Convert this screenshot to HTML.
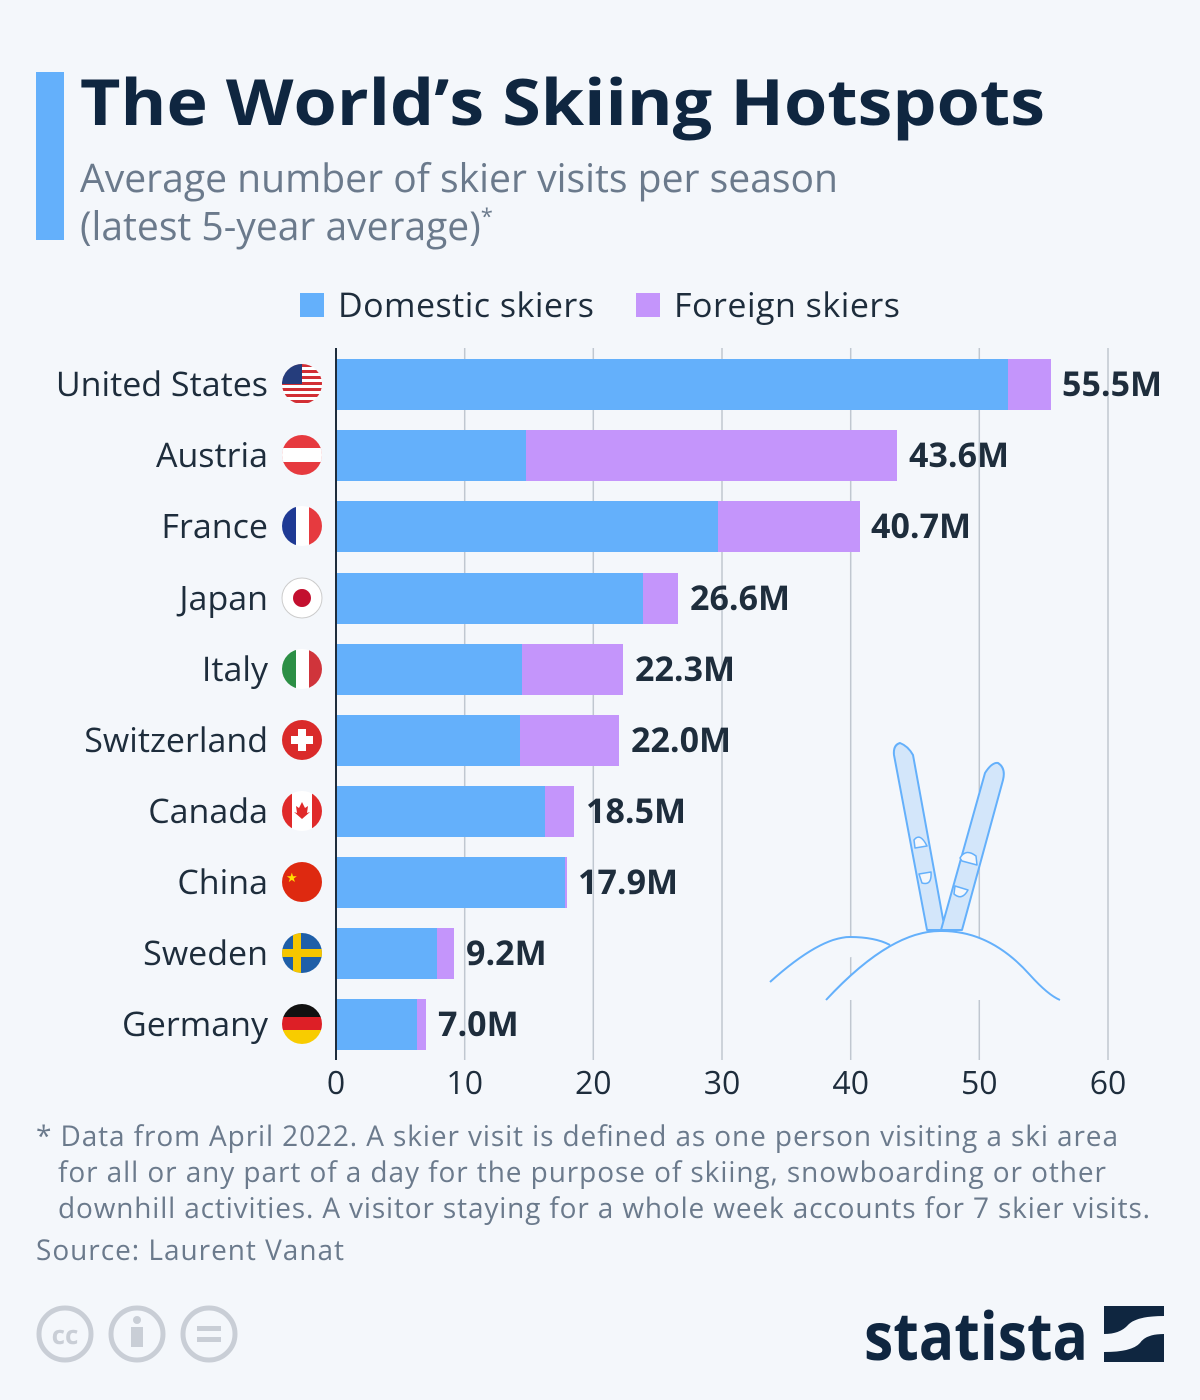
<!DOCTYPE html>
<html><head><meta charset="utf-8"><style>
html,body{margin:0;padding:0;background:#f4f7fb;}
svg{display:block;font-family:"Open Sans","Liberation Sans","DejaVu Sans",sans-serif;}
</style></head><body>
<svg width="1200" height="1400" viewBox="0 0 1200 1400" xmlns="http://www.w3.org/2000/svg">
<rect width="1200" height="1400" fill="#f4f7fb"/>
<rect x="36" y="72" width="28" height="168" fill="#64b0fb"/>
<text x="80" y="125" font-size="64" font-weight="bold" fill="#0f2640" textLength="965" lengthAdjust="spacingAndGlyphs">The World’s Skiing Hotspots</text>
<text x="80" y="192" font-size="39" fill="#6b7a8c" textLength="758" lengthAdjust="spacingAndGlyphs">Average number of skier visits per season</text>
<text x="80" y="240" font-size="39" fill="#6b7a8c">(latest 5-year average)<tspan font-size="22" dy="-16">*</tspan></text>
<rect x="300" y="293" width="24" height="24" fill="#64b0fb"/>
<text x="338" y="317" font-size="34" fill="#1e2d3c" textLength="256">Domestic skiers</text>
<rect x="636" y="293" width="24" height="24" fill="#c495fb"/>
<text x="674" y="317" font-size="34" fill="#1e2d3c" textLength="226">Foreign skiers</text>
<g stroke="#c0c7d0" stroke-width="1.5">
<line x1="464.7" y1="348" x2="464.7" y2="1060"/><line x1="593.3" y1="348" x2="593.3" y2="1060"/>
<line x1="722" y1="348" x2="722" y2="1060"/><line x1="850.7" y1="348" x2="850.7" y2="1060"/>
<line x1="979.3" y1="348" x2="979.3" y2="1060"/><line x1="1108" y1="348" x2="1108" y2="1060"/>
</g>
<g font-size="34" fill="#1e2d3c" text-anchor="end">
<text x="268" y="396">United States</text><text x="268" y="467">Austria</text><text x="268" y="538">France</text>
<text x="268" y="610">Japan</text><text x="268" y="681">Italy</text><text x="268" y="752">Switzerland</text>
<text x="268" y="823">Canada</text><text x="268" y="894">China</text><text x="268" y="965">Sweden</text>
<text x="268" y="1036">Germany</text>
</g>
<defs>
<clipPath id="c1"><circle cx="302" cy="384" r="20"/></clipPath><clipPath id="c2"><circle cx="302" cy="455" r="20"/></clipPath>
<clipPath id="c3"><circle cx="302" cy="526" r="20"/></clipPath><clipPath id="c5"><circle cx="302" cy="669" r="20"/></clipPath>
<clipPath id="c7"><circle cx="302" cy="811" r="20"/></clipPath><clipPath id="c9"><circle cx="302" cy="953" r="20"/></clipPath>
<clipPath id="c10"><circle cx="302" cy="1024" r="20"/></clipPath>
</defs>
<g clip-path="url(#c1)"><rect x="282" y="364" width="40" height="40" fill="#fff"/>
<g fill="#d22f35"><rect x="282" y="364" width="40" height="3"/><rect x="282" y="370" width="40" height="3"/><rect x="282" y="376" width="40" height="3"/><rect x="282" y="382" width="40" height="3"/><rect x="282" y="388" width="40" height="3"/><rect x="282" y="394" width="40" height="3"/><rect x="282" y="400" width="40" height="3"/></g>
<rect x="282" y="364" width="20" height="20" fill="#253d7c"/></g>
<g clip-path="url(#c2)"><rect x="282" y="435" width="40" height="40" fill="#e63a3f"/><rect x="282" y="448" width="40" height="14" fill="#fff"/></g>
<g clip-path="url(#c3)"><rect x="282" y="506" width="14" height="40" fill="#1f3a94"/><rect x="296" y="506" width="13" height="40" fill="#fff"/><rect x="309" y="506" width="13" height="40" fill="#e63a3f"/></g>
<circle cx="302" cy="598" r="20" fill="#fff" stroke="#ccc"/><circle cx="302" cy="598" r="9" fill="#c3102f"/>
<g clip-path="url(#c5)"><rect x="282" y="649" width="14" height="40" fill="#2c8f45"/><rect x="296" y="649" width="13" height="40" fill="#fff"/><rect x="309" y="649" width="13" height="40" fill="#d0343b"/></g>
<circle cx="302" cy="740" r="20" fill="#da2a2a"/><path d="M298 729h8v7h7v8h-7v7h-8v-7h-7v-8h7z" fill="#fff"/>
<g clip-path="url(#c7)"><rect x="282" y="791" width="40" height="40" fill="#fff"/><rect x="282" y="791" width="10" height="40" fill="#e02a2a"/><rect x="312" y="791" width="10" height="40" fill="#e02a2a"/><path d="M302 802l3 6 3-2-1 7 3-1-8 7-8-7 3 1-1-7 3 2z" fill="#e02a2a"/></g>
<circle cx="302" cy="882" r="20" fill="#de2910"/><text x="286" y="882" font-size="13" fill="#ffde00">★</text>
<g clip-path="url(#c9)"><rect x="282" y="933" width="40" height="40" fill="#1f5fa8"/><rect x="282" y="949" width="40" height="8" fill="#f6c600"/><rect x="293" y="933" width="8" height="40" fill="#f6c600"/></g>
<g clip-path="url(#c10)"><rect x="282" y="1004" width="40" height="14" fill="#111"/><rect x="282" y="1017" width="40" height="14" fill="#dd1f26"/><rect x="282" y="1030" width="40" height="14" fill="#f8cc00"/></g>
<g fill="#64b0fb">
<rect x="336" y="359" width="672" height="51"/><rect x="336" y="430" width="190" height="51"/>
<rect x="336" y="501" width="382" height="51"/><rect x="336" y="573" width="307" height="51"/>
<rect x="336" y="644" width="186" height="51"/><rect x="336" y="715" width="184" height="51"/>
<rect x="336" y="786" width="209" height="51"/><rect x="336" y="857" width="229" height="51"/>
<rect x="336" y="928" width="101" height="51"/><rect x="336" y="999" width="81" height="51"/>
</g>
<g fill="#c495fb">
<rect x="1008" y="359" width="43" height="51"/><rect x="526" y="430" width="371" height="51"/>
<rect x="718" y="501" width="142" height="51"/><rect x="643" y="573" width="35" height="51"/>
<rect x="522" y="644" width="101" height="51"/><rect x="520" y="715" width="99" height="51"/>
<rect x="545" y="786" width="29" height="51"/><rect x="565" y="857" width="2" height="51"/>
<rect x="437" y="928" width="17" height="51"/><rect x="417" y="999" width="9" height="51"/>
</g>
<line x1="336" y1="348" x2="336" y2="1060" stroke="#1e2d3c" stroke-width="2"/>
<g font-size="34" font-weight="bold" fill="#1e2d3c">
<text x="1062" y="396">55.5M</text><text x="909" y="467">43.6M</text><text x="871" y="538">40.7M</text>
<text x="690" y="610">26.6M</text><text x="635" y="681">22.3M</text><text x="631" y="752">22.0M</text>
<text x="586" y="823">18.5M</text><text x="578" y="894">17.9M</text><text x="466" y="965">9.2M</text>
<text x="438" y="1036">7.0M</text>
</g>
<g font-size="32" fill="#1e2d3c" text-anchor="middle">
<text x="336" y="1094">0</text><text x="464.7" y="1094">10</text><text x="593.3" y="1094">20</text>
<text x="722" y="1094">30</text><text x="850.7" y="1094">40</text><text x="979.3" y="1094">50</text><text x="1108" y="1094">60</text>
</g>
<g stroke="#64b0fb" stroke-width="2" stroke-linejoin="round">
<path d="M894 755 Q893 745 900 743 Q908 746 913 755 L945 930 L927 930 Z" fill="#d3e6fa"/>
<path d="M985 773 Q992 762 998 763 Q1006 768 1003 780 L962 930 L941 930 Z" fill="#d3e6fa"/>
<path d="M914 840 Q920 832 927 846 L915 848 Z M919 874 L931 872 Q932 886 922 883 Z M960 858 Q966 848 976 856 L977 865 L962 861 Z M955 886 L968 890 Q962 901 954 894 Z" fill="#f4f7fb" stroke-width="1.5"/>
<path d="M770 982 Q820 937 850 937 Q875 937 890 945" fill="#f4f7fb"/>
<path d="M826 1000 Q890 931 940 931 Q990 930 1030 975 Q1048 995 1060 1000" fill="#f4f7fb"/>
</g>
<g font-size="28" fill="#6b7a8c">
<text x="36" y="1146" textLength="1082">* Data from April 2022. A skier visit is defined as one person visiting a ski area</text>
<text x="58" y="1182" textLength="1048">for all or any part of a day for the purpose of skiing, snowboarding or other</text>
<text x="58" y="1218" textLength="1092">downhill activities. A visitor staying for a whole week accounts for 7 skier visits.</text>
<text x="36" y="1260" textLength="308">Source: Laurent Vanat</text>
</g>
<g stroke="#c9ced6" stroke-width="5" fill="none">
<circle cx="65" cy="1334" r="26"/><circle cx="137" cy="1334" r="26"/><circle cx="209" cy="1334" r="26"/>
</g>
<text x="65" y="1344" font-size="26" font-weight="bold" fill="#c9ced6" text-anchor="middle">cc</text>
<circle cx="137" cy="1320" r="4" fill="#c9ced6"/><rect x="131" y="1327" width="12" height="20" fill="#c9ced6"/>
<rect x="197" y="1326" width="24" height="5" fill="#c9ced6"/><rect x="197" y="1337" width="24" height="5" fill="#c9ced6"/>
<text x="864" y="1360" font-size="66" font-weight="bold" fill="#0f2640" textLength="224" lengthAdjust="spacingAndGlyphs">statista</text>
<rect x="1104" y="1306" width="60" height="56" fill="#0f2640"/>
<path d="M1104 1334 Q1120 1334 1128 1325 Q1136 1316 1164 1316 L1164 1334 Q1146 1334 1140 1343 Q1132 1352 1104 1352 Z" fill="#f4f7fb"/>
</svg>
</body></html>
